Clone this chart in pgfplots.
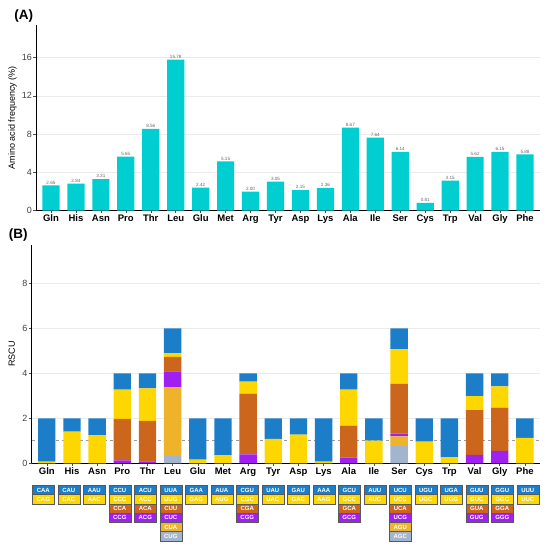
\documentclass[border=0pt]{standalone}
\usepackage{pgfplots}
\pgfplotsset{compat=1.18}
\usepackage{pgfplotstable}
\usepackage{fontspec}
\setmainfont{Liberation Sans}
\definecolor{aabar}{HTML}{00CED1}
\definecolor{cr1}{HTML}{1C7DC8}
\definecolor{cr2}{HTML}{FFD700}
\definecolor{cr3}{HTML}{CD661D}
\definecolor{cr4}{HTML}{A020F0}
\definecolor{cr5}{HTML}{EEB32A}
\definecolor{cr6}{HTML}{A2B5CD}

\pgfplotstableread{
x aa freq
0 Gln 2.65
1 His 2.84
2 Asn 3.31
3 Pro 5.65
4 Thr 8.56
5 Leu 15.78
6 Glu 2.42
7 Met 5.15
8 Arg 2.00
9 Tyr 3.05
10 Asp 2.15
11 Lys 2.36
12 Ala 8.67
13 Ile 7.64
14 Ser 6.14
15 Cys 0.81
16 Trp 3.15
17 Val 5.62
18 Gly 6.15
19 Phe 5.88
}\freqtable

\pgfplotstableread{
x c1 c2 c3 c4 c5 c6
0 1.93 0.07 0 0 0 0
1 0.59 1.41 0 0 0 0
2 0.76 1.24 0 0 0 0
3 0.73 1.30 1.84 0.13 0 0
4 0.67 1.45 1.79 0.09 0 0
5 1.10 0.17 0.64 0.71 3.05 0.33
6 1.84 0.16 0 0 0 0
7 1.64 0.36 0 0 0 0
8 0.37 0.53 2.70 0.40 0 0
9 0.92 1.08 0 0 0 0
10 0.73 1.27 0 0 0 0
11 1.93 0.07 0 0 0 0
12 0.73 1.60 1.42 0.25 0 0
13 0.99 1.01 0 0 0 0
14 0.93 1.54 2.21 0.12 0.44 0.76
15 1.04 0.96 0 0 0 0
16 1.73 0.27 0 0 0 0
17 1.01 0.63 1.99 0.37 0 0
18 0.58 0.95 1.92 0.55 0 0
19 0.87 1.13 0 0 0 0
}\rscutable

\pgfplotsset{
  panel/.style={
    scale only axis,
    axis x line*=bottom, axis y line*=left,
    xmin=-0.6, xmax=19.6, ymin=0,
    xtick={0,...,19},
    xticklabels={Gln,His,Asn,Pro,Thr,Leu,Glu,Met,Arg,Tyr,Asp,Lys,Ala,Ile,Ser,Cys,Trp,Val,Gly,Phe},
    ymajorgrids,
    major grid style={draw=black!8, line width=0.5pt},
    tick align=outside,
    major tick length=2.5pt,
    tick style={black!70, line width=0.5pt},
    axis line style={black, line width=0.6pt},
    x tick label style={font=\fontsize{9.5}{10}\selectfont\bfseries, text=black, inner sep=1.5pt},
    y tick label style={font=\fontsize{9}{10}\selectfont, text=black!75, inner sep=1.5pt},
    ylabel style={font=\fontsize{9}{10}\selectfont, text=black},
    /pgf/number format/assume math mode=true,
    bar width=0.69,
  }
}

\begin{document}
\begin{tikzpicture}
\path[use as bounding box] (0,0) rectangle (550pt,549pt);

% Panel A
\begin{axis}[panel,
  at={(36pt,338.3pt)}, anchor=south west,
  width=504pt, height=185.7pt,
  ymax=19.4, ytick={0,4,8,12,16},
  ylabel={Amino acid frequency (\%)},
  ybar,
  nodes near coords,
  every node near coord/.append style={font=\fontsize{4.6}{5}\selectfont, text=black!60, inner sep=1pt,
    /pgf/number format/.cd, fixed, fixed zerofill, precision=2, assume math mode=true},
]
\addplot[fill=aabar, draw=none] table[x=x, y=freq] {\freqtable};
\end{axis}

% Panel B
\begin{axis}[panel,
  at={(31.7pt,85.7pt)}, anchor=south west,
  width=508.3pt, height=218.3pt,
  ymax=9.7, ytick={0,2,4,6,8},
  ylabel={RSCU},
  ybar stacked,
  extra y ticks={1}, extra y tick labels={},
  extra y tick style={grid=major, major grid style={dashed, black!40, line width=0.6pt}, major tick length=0pt},
]
\addplot[fill=cr6, draw=none] table[x=x, y=c6] {\rscutable};
\addplot[fill=cr5, draw=none] table[x=x, y=c5] {\rscutable};
\addplot[fill=cr4, draw=none] table[x=x, y=c4] {\rscutable};
\addplot[fill=cr3, draw=none] table[x=x, y=c3] {\rscutable};
\addplot[fill=cr2, draw=none] table[x=x, y=c2] {\rscutable};
\addplot[fill=cr1, draw=none] table[x=x, y=c1] {\rscutable};
\end{axis}

\node[font=\fontsize{13.5}{14}\selectfont\bfseries] at (23.7pt,533.3pt) {(A)};
\node[font=\fontsize{13.5}{14}\selectfont\bfseries] at (18.3pt,314pt) {(B)};

% codon boxes
\foreach \i/\codons in {0/{CAA,CAG},1/{CAU,CAC},2/{AAU,AAC},3/{CCU,CCC,CCA,CCG},4/{ACU,ACC,ACA,ACG},
  5/{UUA,UUG,CUU,CUC,CUA,CUG},6/{GAA,GAG},7/{AUA,AUG},8/{CGU,CGC,CGA,CGG},9/{UAU,UAC},
  10/{GAU,GAC},11/{AAA,AAG},12/{GCU,GCC,GCA,GCG},13/{AUU,AUC},14/{UCU,UCC,UCA,UCG,AGU,AGC},
  15/{UGU,UGC},16/{UGA,UGG},17/{GUU,GUC,GUA,GUG},18/{GGU,GGC,GGA,GGG},19/{UUU,UUC}} {
  \foreach \c [count=\r] in \codons {
    \node[draw=black!65, line width=0.4pt, fill=cr\r, text=white, inner sep=0pt,
      minimum width=22pt, minimum height=9.2pt,
      font=\fontsize{6}{6}\selectfont\bfseries]
      at ({(43.3+\i*25.5)*1pt},{(59-(\r-1)*9.25)*1pt}) {\c};
  }
}
\end{tikzpicture}
\end{document}
